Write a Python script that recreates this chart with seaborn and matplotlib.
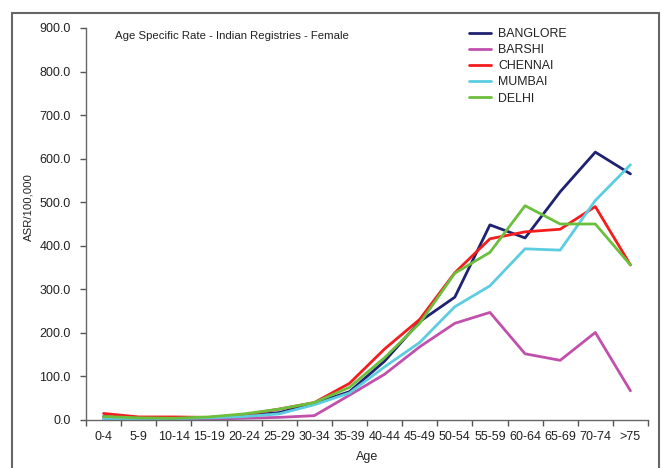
import matplotlib
matplotlib.use("Agg")
import matplotlib.pyplot as plt
from matplotlib.patches import Rectangle
import seaborn as sns
import pandas as pd

age_groups = ["0-4", "5-9", "10-14", "15-19", "20-24", "25-29", "30-34", "35-39",
              "40-44", "45-49", "50-54", "55-59", "60-64", "65-69", "70-74", ">75"]
banglore = [8, 3, 3, 5, 10, 17, 38, 65, 135, 226, 282, 448, 418, 524, 615, 565]
barshi = [3, 1, 1, 2, 4, 6, 10, 57, 105, 168, 222, 247, 152, 137, 201, 67]
chennai = [15, 7, 7, 6, 12, 25, 40, 84, 163, 231, 338, 416, 432, 438, 490, 356]
mumbai = [3, 2, 3, 5, 8, 14, 35, 62, 122, 178, 260, 308, 393, 390, 504, 586]
delhi = [8, 5, 4, 7, 14, 25, 40, 75, 143, 222, 337, 385, 492, 450, 450, 356]

series = {"BANGLORE": banglore, "BARSHI": barshi, "CHENNAI": chennai,
          "MUMBAI": mumbai, "DELHI": delhi}
colors = {"BANGLORE": "#1f2270", "BARSHI": "#c150ad", "CHENNAI": "#f41d1d",
          "MUMBAI": "#5ccde0", "DELHI": "#6cbf3c"}

rows = []
for name, vals in series.items():
    for i, v in enumerate(vals):
        rows.append({"pos": i, "Age": age_groups[i], "value": v, "Registry": name})
df = pd.DataFrame(rows)

sns.set_style("ticks")
plt.rcParams["font.family"] = ["Liberation Sans", "DejaVu Sans"]

fig = plt.figure(figsize=(6.61, 4.68), dpi=100)
ax = fig.add_axes([86 / 661, 1 - 420 / 468, (648 - 86) / 661, (420 - 28) / 468])

sns.lineplot(data=df, x="pos", y="value", hue="Registry", hue_order=list(series.keys()),
             palette=colors, linewidth=2.0, ax=ax, legend=True)

ax.set_xlim(-0.5, len(age_groups) - 0.5)
ax.set_ylim(0, 900)
ax.set_yticks(range(0, 901, 100))
ax.set_yticklabels([f"{v:.1f}" for v in range(0, 901, 100)], fontsize=9, color="#222222")
ax.set_xticks(range(len(age_groups)))
ax.set_xticklabels(age_groups, fontsize=9, color="#222222")
ax.tick_params(axis="x", which="major", length=0, pad=8)
ax.set_xticks([i - 0.5 for i in range(len(age_groups) + 1)], minor=True)
ax.tick_params(axis="x", which="minor", length=4, color="#555555", width=1)
ax.tick_params(axis="y", length=4, color="#555555", width=1, pad=7)

for s in ["top", "right"]:
    ax.spines[s].set_visible(False)
for s in ["left", "bottom"]:
    ax.spines[s].set_color("#666666")
    ax.spines[s].set_linewidth(1.0)

ax.set_xlabel("Age", fontsize=9, color="#222222", labelpad=6)
ax.set_ylabel("ASR/100,000", fontsize=8.2, color="#222222")
ax.yaxis.set_label_coords(-0.093, 0.543)

ax.text(0.052, 0.992, "Age Specific Rate - Indian Registries - Female", transform=ax.transAxes,
        fontsize=8.2, va="top", ha="left", color="#222222")

leg = ax.legend(loc="upper left", bbox_to_anchor=(0.673, 1.013), frameon=False, fontsize=8.9,
                handlelength=1.8, handletextpad=0.55, labelspacing=0.34, borderaxespad=0)
for t in leg.get_texts():
    t.set_color("#222222")

fig.add_artist(Rectangle((12 / 661, -0.1), (659 - 12) / 661, 1 - 13 / 468 + 0.1,
                         transform=fig.transFigure, fill=False, edgecolor="#666666",
                         linewidth=1.5))

fig.savefig("out.png", dpi=100)
